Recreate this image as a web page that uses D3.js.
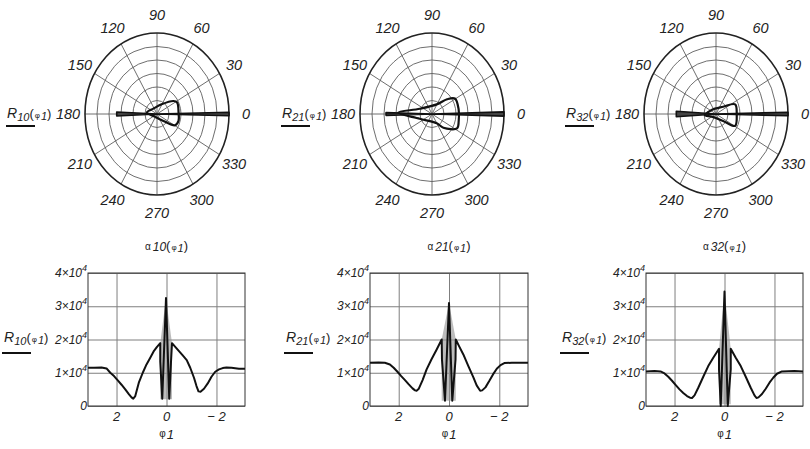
<!DOCTYPE html>
<html>
<head>
<meta charset="utf-8">
<script src="https://cdn.jsdelivr.net/npm/d3@7/dist/d3.min.js"></script>
<style>
  body { margin: 0; background: #fff; }
  text { font-family: "Liberation Sans", Arial, sans-serif; font-style: italic; fill: #222; }
</style>
</head>
<body>
<svg id="chart" width="810" height="449"></svg>
<script>
// ---- data ----
const names = ["10", "21", "32"];
const angleTicks = d3.range(0, 360, 30);
const ringCount = 6;
const yTicks = [0, 1, 2, 3, 4];            // units of 10^4
const phiTicks = [2, 0, -2];
const phiTickLabels = ["2", "0", "\u2212 2"];

// R(phi) curves, R in units of 10^4
const phi10 = [3.14, 2.9, 2.6, 2.4, 2.25, 2.1, 1.95, 1.8, 1.65, 1.5, 1.4, 1.33, 1.25, 1.1, 0.95, 0.8, 0.65, 0.5, 0.38, 0.25, 0.25, 0.17, 0.02, -0.11, -0.18, -0.22, -0.35, -0.5, -0.65, -0.81, -0.95, -1.1, -1.2, -1.28, -1.36, -1.5, -1.65, -1.8, -1.95, -2.1, -2.25, -2.4, -2.6, -2.9, -3.14];
const r10   = [1.15, 1.15, 1.16, 1.13, 1.0, 0.9, 0.77, 0.64, 0.5, 0.35, 0.26, 0.22, 0.3, 0.72, 1.0, 1.25, 1.45, 1.66, 1.78, 1.89, 1.33, 0.22, 3.25, 0.22, 1.33, 1.89, 1.78, 1.65, 1.52, 1.38, 1.15, 0.85, 0.6, 0.44, 0.43, 0.52, 0.68, 0.88, 1.03, 1.1, 1.14, 1.16, 1.15, 1.12, 1.12];

const phi21 = [3.14, 2.8, 2.55, 2.35, 2.2, 2.05, 1.9, 1.75, 1.6, 1.45, 1.35, 1.29, 1.2, 1.05, 0.89, 0.7, 0.49, 0.29, 0.28, 0.16, 0.0, -0.13, -0.26, -0.27, -0.4, -0.57, -0.77, -0.97, -1.1, -1.24, -1.32, -1.45, -1.6, -1.75, -1.9, -2.05, -2.2, -2.5, -2.8, -3.14];
const r21   = [1.3, 1.31, 1.3, 1.25, 1.15, 1.03, 0.9, 0.78, 0.65, 0.53, 0.47, 0.46, 0.52, 0.78, 1.1, 1.4, 1.7, 2.0, 1.4, 0.16, 3.1, 0.16, 1.4, 2.0, 1.8, 1.55, 1.2, 0.86, 0.62, 0.46, 0.47, 0.56, 0.75, 0.95, 1.12, 1.23, 1.29, 1.3, 1.3, 1.3];

const phi32 = [3.14, 2.8, 2.56, 2.4, 2.25, 2.1, 1.95, 1.8, 1.65, 1.5, 1.38, 1.3, 1.2, 1.05, 0.85, 0.65, 0.45, 0.22, 0.22, 0.15, 0.0, -0.13, -0.25, -0.25, -0.45, -0.65, -0.85, -1.05, -1.2, -1.28, -1.36, -1.5, -1.65, -1.8, -1.95, -2.1, -2.3, -2.8, -3.14];
const r32   = [1.04, 1.05, 1.04, 0.98, 0.88, 0.76, 0.63, 0.5, 0.39, 0.3, 0.25, 0.24, 0.32, 0.55, 0.88, 1.2, 1.45, 1.72, 1.1, 0.0, 3.44, 0.0, 1.1, 1.72, 1.45, 1.2, 0.88, 0.55, 0.32, 0.24, 0.26, 0.36, 0.52, 0.7, 0.85, 0.97, 1.04, 1.05, 1.04];

// dense central oscillation (grey band): shoulder, peak, shoulder
const bandPhi10 = [0.25, 0.02, -0.22], bandTop10 = [1.89, 3.25, 1.89];
const bandPhi21 = [0.29, 0.0, -0.27],  bandTop21 = [2.0, 3.1, 2.0];
const bandPhi32 = [0.22, 0.0, -0.25],  bandTop32 = [1.72, 3.44, 1.72];
const bandLow = [0.2, 0.16, 0.05];

// polar traces R(alpha): loop and the narrow spikes along 0/180 deg
const loopAng10 = [172, 127, 62, 35, 27, 4, -16, -29, -44, -153, 172];
const loopR10   = [0.455, 0.27, 0.44, 0.91, 1.02, 0.975, 1.01, 0.93, 0.40, 0.18, 0.455];
const loopAng21 = [178, 159, 61, 41, 31, 9, -13, -27, -47, -60, -161, 178];
const loopR21   = [1.46, 0.56, 0.42, 0.86, 1.15, 1.16, 1.18, 1.21, 0.72, 0.41, 0.56, 1.46];
const loopAng32 = [186, 140, 42, 24, 0, -29, -41, -151, 186];
const loopR32   = [0.53, 0.27, 0.46, 1.0, 0.99, 1.04, 0.45, 0.23, 0.53];

const spikeAng10 = [0, 1.2, -1.2, 0, 177.5, 182.5], spikeR10 = [0, 3.25, 3.25, 0, 1.82, 1.82];
const spikeAng21 = [0, 1.5, -1.5, 0, 178.5, 181.5], spikeR21 = [0, 3.1, 3.1, 0, 1.98, 1.98];
const spikeAng32 = [0, 1.2, -1.2, 0, 176.5, 183.5], spikeR32 = [0, 3.44, 3.44, 0, 1.9, 1.9];

// ---- layout ----
const panels = [
  { name: names[0], cx: 157, phi: phi10, r: r10, bandPhi: bandPhi10, bandTop: bandTop10, low: bandLow[0],
    loopAng: loopAng10, loopR: loopR10, spikeAng: spikeAng10, spikeR: spikeR10, fx0: 88, fx1: 245 },
  { name: names[1], cx: 432, phi: phi21, r: r21, bandPhi: bandPhi21, bandTop: bandTop21, low: bandLow[1],
    loopAng: loopAng21, loopR: loopR21, spikeAng: spikeAng21, spikeR: spikeR21, fx0: 370, fx1: 528 },
  { name: names[2], cx: 716, phi: phi32, r: r32, bandPhi: bandPhi32, bandTop: bandTop32, low: bandLow[2],
    loopAng: loopAng32, loopR: loopR32, spikeAng: spikeAng32, spikeR: spikeR32, fx0: 646, fx1: 803 }
];
const cy = 114, rx = 72, ry = 81;
const fy0 = 273, fy1 = 406;

const svg = d3.select("#chart");
const rad = (deg) => deg * Math.PI / 180;

// Mathcad style function label: head + subscript + (phi 1)
function fnLabel(g, x, y, head, sub, headSize, anchor) {
  const isAlpha = head === "\u03b1";
  const t = g.append("text").attr("x", x).attr("y", y).attr("text-anchor", anchor || "start");
  t.append("tspan").text(head).style("font-size", headSize + "px")
    .style("font-style", isAlpha ? "normal" : "italic");
  t.append("tspan").text(sub).style("font-size", isAlpha ? "12px" : "11px")
    .attr("dy", isAlpha ? 1 : 3).attr("dx", isAlpha ? 2 : 0);
  t.append("tspan").text("(").style("font-size", "13px").style("font-style", "normal").attr("dy", isAlpha ? -1 : -3);
  t.append("tspan").text("\u03c6").style("font-size", "8px").style("font-style", "normal").attr("dx", 1);
  t.append("tspan").text("1").style("font-size", "11px").attr("dy", 2).attr("dx", 1);
  t.append("tspan").text(")").style("font-size", "13px").style("font-style", "normal").attr("dy", -2);
  return t;
}

panels.forEach((p) => {
  // ---------- polar ----------
  const rMax = d3.max(p.spikeR);
  const rs = d3.scaleLinear().domain([0, rMax]).range([0, 1]);
  const px = (a, r) => p.cx + rx * rs(r) * Math.cos(rad(a));
  const py = (a, r) => cy - ry * rs(r) * Math.sin(rad(a));
  const gp = svg.append("g");

  d3.range(1, ringCount).forEach((k) => {
    gp.append("ellipse").attr("cx", p.cx).attr("cy", cy)
      .attr("rx", rx * k / ringCount).attr("ry", ry * k / ringCount)
      .attr("fill", "none").attr("stroke", "#5e5e5e").attr("stroke-width", 0.9);
  });
  angleTicks.forEach((a) => {
    gp.append("line").attr("x1", p.cx).attr("y1", cy)
      .attr("x2", p.cx + rx * Math.cos(rad(a))).attr("y2", cy - ry * Math.sin(rad(a)))
      .attr("stroke", "#5e5e5e").attr("stroke-width", 0.9);
  });
  gp.append("ellipse").attr("cx", p.cx).attr("cy", cy).attr("rx", rx).attr("ry", ry)
    .attr("fill", "none").attr("stroke", "#222").attr("stroke-width", 1.6);

  gp.selectAll("text.ang").data(angleTicks).join("text").attr("class", "ang")
    .attr("x", (a) => p.cx + 89 * Math.cos(rad(a)))
    .attr("y", (a) => cy - 99 * Math.sin(rad(a)))
    .attr("dy", "0.36em").attr("text-anchor", "middle")
    .style("font-size", "14.5px").text((a) => a);

  const polarLine = d3.line().x((i) => px(p.spikeAng[i], p.spikeR[i])).y((i) => py(p.spikeAng[i], p.spikeR[i]));
  gp.append("path").attr("d", polarLine(d3.range(p.spikeAng.length)) + "Z")
    .attr("fill", "#444").attr("stroke", "#111").attr("stroke-width", 1.6).attr("stroke-linejoin", "round");
  const loopLine = d3.line().x((i) => px(p.loopAng[i], p.loopR[i])).y((i) => py(p.loopAng[i], p.loopR[i]))
    .curve(d3.curveCatmullRomClosed.alpha(0.5));
  gp.append("path").attr("d", loopLine(d3.range(p.loopAng.length - 1)))
    .attr("fill", "none").attr("stroke", "#111").attr("stroke-width", 2.2);

  // R label left of polar
  const lx = p.cx - 150;
  fnLabel(gp, lx, cy + 4, "R", p.name, 14);
  gp.append("line").attr("x1", lx - 1).attr("x2", lx + 28).attr("y1", cy + 12).attr("y2", cy + 12)
    .attr("stroke", "#111").attr("stroke-width", 2);

  // ---------- cartesian ----------
  const x = d3.scaleLinear().domain([Math.PI, -Math.PI]).range([p.fx0, p.fx1]);
  const y = d3.scaleLinear().domain([0, 4e4]).range([fy1, fy0]);
  const gc = svg.append("g");

  gc.append("g").attr("transform", `translate(0,${fy1})`)
    .call(d3.axisBottom(x).tickValues(phiTicks).tickSize(-(fy1 - fy0)).tickFormat(""))
    .call((g) => g.select(".domain").remove())
    .call((g) => g.selectAll("line").attr("stroke", "#7f7f7f"));
  gc.append("g").attr("transform", `translate(${p.fx0},0)`)
    .call(d3.axisLeft(y).tickValues(yTicks.map((v) => v * 1e4)).tickSize(-(p.fx1 - p.fx0)).tickFormat(""))
    .call((g) => g.select(".domain").remove())
    .call((g) => g.selectAll("line").attr("stroke", "#7f7f7f"));
  gc.append("rect").attr("x", p.fx0).attr("y", fy0).attr("width", p.fx1 - p.fx0).attr("height", fy1 - fy0)
    .attr("fill", "none").attr("stroke", "#333").attr("stroke-width", 1);

  // grey band under the central spike
  const band = d3.area().x((i) => x(p.bandPhi[i])).y0(y(p.low * 1e4)).y1((i) => y(p.bandTop[i] * 1e4));
  gc.append("path").attr("d", band(d3.range(p.bandPhi.length)))
    .attr("fill", "#8f8f8f").attr("opacity", 0.6);

  const curve = d3.line().x((i) => x(p.phi[i])).y((i) => y(p.r[i] * 1e4));
  gc.append("path").attr("d", curve(d3.range(p.phi.length)))
    .attr("fill", "none").attr("stroke", "#111").attr("stroke-width", 2).attr("stroke-linejoin", "round");

  // y tick labels n x 10^4
  yTicks.forEach((v) => {
    const t = gc.append("text").attr("x", p.fx0 - 1).attr("y", y(v * 1e4) + 4)
      .attr("text-anchor", "end").style("font-size", "12px");
    if (v === 0) { t.text("0"); return; }
    t.append("tspan").text(v + "\u00d710");
    t.append("tspan").text("4").attr("dy", -6).style("font-size", "9px");
  });
  gc.selectAll("text.xt").data(phiTicks).join("text").attr("class", "xt")
    .attr("x", (d) => x(d)).attr("y", fy1 + 15).attr("text-anchor", "middle")
    .style("font-size", "13px").text((d, i) => phiTickLabels[i]);

  // axis labels
  const mid = (p.fx0 + p.fx1) / 2;
  fnLabel(gc, mid, 250, "\u03b1", p.name, 10, "middle");
  const xl = gc.append("text").attr("x", mid).attr("y", 437).attr("text-anchor", "middle");
  xl.append("tspan").text("\u03c6").style("font-size", "10px").style("font-style", "normal");
  xl.append("tspan").text("1").style("font-size", "13px").attr("dy", 2).attr("dx", 1);

  const rlx = p.fx0 - 84;
  fnLabel(gc, rlx, 342, "R", p.name, 14);
  gc.append("line").attr("x1", rlx - 2).attr("x2", rlx + 27).attr("y1", 353).attr("y2", 353)
    .attr("stroke", "#111").attr("stroke-width", 2);
});
</script>
</body>
</html>
